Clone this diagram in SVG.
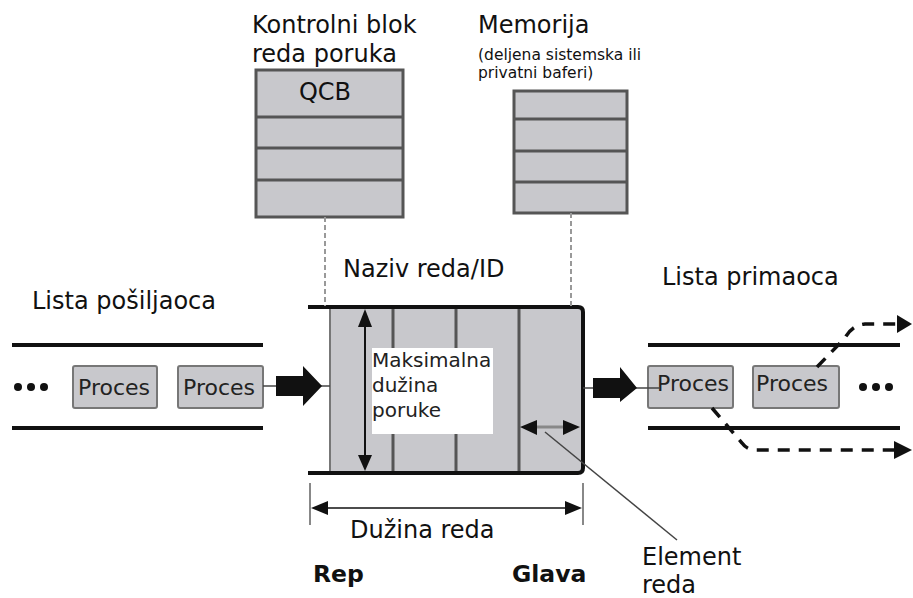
<svg xmlns="http://www.w3.org/2000/svg" width="913" height="598" viewBox="0 0 913 598">
  <style>
    text { font-family: "DejaVu Sans", "Verdana", sans-serif; fill: #111; }
    .title { font-size: 24px; }
    .bold { font-size: 23.5px; font-weight: bold; }
    .small { font-size: 15.5px; }
    .proc { font-size: 22px; fill: #222; }
    .note { font-size: 20px; fill: #222; }
    .cell { fill: #c8c8cc; }
    .box { fill: #c8c8cc; stroke: #555; stroke-width: 3; }
    .divider { stroke: #555; stroke-width: 3; }
    .procbox { fill: #c8c8cc; stroke: #777; stroke-width: 2; }
    .rail { stroke: #111; stroke-width: 4; }
    .link { stroke: #999; stroke-width: 2; stroke-dasharray: 5 3; fill: none; }
    .thin { stroke: #444; stroke-width: 1.5; fill: none; }
    .flow { stroke: #111; stroke-width: 3.5; stroke-dasharray: 12 9; fill: none; }
    .head { fill: #111; }
  </style>

  <rect width="913" height="598" fill="#fff"/>

  <!-- Queue control block -->
  <g id="qcb">
    <text class="title" x="252" y="33" font-size="24.5">Kontrolni blok</text>
    <text class="title" x="252" y="62" font-size="24.5">reda poruka</text>
    <rect class="box" x="256" y="70" width="147" height="147"/>
    <line class="divider" x1="256" y1="117" x2="403" y2="117"/>
    <line class="divider" x1="256" y1="148" x2="403" y2="148"/>
    <line class="divider" x1="256" y1="180" x2="403" y2="180"/>
    <text class="title" x="325" y="100" text-anchor="middle">QCB</text>
  </g>

  <!-- Memory buffers -->
  <g id="memory">
    <text class="title" x="478" y="33" font-size="24.5">Memorija</text>
    <text class="small" x="478" y="60">(deljena sistemska ili</text>
    <text class="small" x="478" y="78">privatni baferi)</text>
    <rect class="box" x="514" y="91" width="113" height="122"/>
    <line class="divider" x1="514" y1="119" x2="627" y2="119"/>
    <line class="divider" x1="514" y1="151" x2="627" y2="151"/>
    <line class="divider" x1="514" y1="182" x2="627" y2="182"/>
  </g>

  <!-- Message queue -->
  <g id="queue">
    <text class="title" x="343" y="277" font-size="24.5">Naziv reda/ID</text>
    <rect class="cell" x="330" y="307" width="253" height="166"/>
    <line x1="330" y1="307" x2="330" y2="473" stroke="#777" stroke-width="2"/>
    <line class="divider" x1="393" y1="307" x2="393" y2="473" stroke-width="2.5"/>
    <line class="divider" x1="456" y1="307" x2="456" y2="473" stroke-width="2.5"/>
    <line class="divider" x1="519" y1="307" x2="519" y2="473" stroke-width="2.5"/>
    <path d="M 308 307 L 578 307 Q 583 307 583 312 L 583 468 Q 583 473 578 473 L 308 473" fill="none" stroke="#111" stroke-width="4"/>
    <rect x="372" y="348" width="121" height="86" fill="#fff"/>
    <text class="note" x="372" y="367">Maksimalna</text>
    <text class="note" x="372" y="392">dužina</text>
    <text class="note" x="372" y="417">poruke</text>
  </g>

  <!-- Sender list -->
  <g id="senders">
    <text class="title" x="32" y="309" font-size="23.5">Lista pošiljaoca</text>
    <line class="rail" x1="12" y1="345" x2="263" y2="345"/>
    <line class="rail" x1="12" y1="428" x2="263" y2="428"/>
    <circle cx="18" cy="387" r="4" fill="#111"/>
    <circle cx="31" cy="387" r="4" fill="#111"/>
    <circle cx="44" cy="387" r="4" fill="#111"/>
    <rect class="procbox" x="73" y="366" width="84" height="42" rx="2"/>
    <text class="proc" x="114" y="395" text-anchor="middle">Proces</text>
    <rect class="procbox" x="178" y="366" width="85" height="42" rx="2"/>
    <text class="proc" x="219" y="395" text-anchor="middle">Proces</text>
  </g>

  <!-- Receiver list -->
  <g id="receivers">
    <text class="title" x="662" y="285">Lista primaoca</text>
    <line class="rail" x1="648" y1="345" x2="900" y2="345"/>
    <line class="rail" x1="648" y1="428" x2="900" y2="428"/>
    <rect class="procbox" x="648" y="366" width="85" height="42" rx="2"/>
    <text class="proc" x="693" y="391" text-anchor="middle">Proces</text>
    <rect class="procbox" x="753" y="366" width="86" height="42" rx="2"/>
    <text class="proc" x="792" y="391" text-anchor="middle">Proces</text>
    <circle cx="863" cy="387" r="4" fill="#111"/>
    <circle cx="876" cy="387" r="4" fill="#111"/>
    <circle cx="889" cy="387" r="4" fill="#111"/>
  </g>

  <!-- Labels around the queue -->
  <g id="labels">
    <text class="title" x="350" y="538" font-size="24.5">Dužina reda</text>
    <text class="bold" x="313" y="582">Rep</text>
    <text class="bold" x="512" y="582">Glava</text>
    <text class="title" x="642" y="565">Element</text>
    <text class="title" x="642" y="593">reda</text>
  </g>

  <!-- Connectors -->
  <g id="connectors">
    <!-- links from QCB and memory down to the queue -->
    <line class="link" x1="325" y1="217" x2="325" y2="306"/>
    <line class="link" x1="571" y1="213" x2="571" y2="306"/>

    <!-- sender -> queue -->
    <line x1="263" y1="386" x2="330" y2="386" stroke="#444" stroke-width="1.5"/>
    <polygon class="head" points="276,376 303,376 303,366 322,386 303,406 303,396 276,396"/>

    <!-- queue -> receiver -->
    <line x1="583" y1="388" x2="660" y2="388" stroke="#444" stroke-width="1.5"/>
    <polygon class="head" points="593,378 620,378 620,367 637,388 620,402 620,398 593,398"/>

    <!-- maximum message length -->
    <line x1="365" y1="320" x2="365" y2="460" stroke="#111" stroke-width="2"/>
    <polygon class="head" points="365,309 358,327 372,327"/>
    <polygon class="head" points="365,471 358,455 372,455"/>

    <!-- element width -->
    <line x1="535" y1="427" x2="565" y2="427" stroke="#888" stroke-width="3"/>
    <polygon class="head" points="520,427 537,420 537,435"/>
    <polygon class="head" points="580,427 563,420 563,435"/>
    <line class="thin" x1="545" y1="432" x2="677" y2="540" stroke="#555"/>

    <!-- queue length -->
    <line x1="310" y1="483" x2="310" y2="525" stroke="#888" stroke-width="2"/>
    <line x1="583" y1="483" x2="583" y2="525" stroke="#888" stroke-width="2"/>
    <line x1="320" y1="508" x2="573" y2="508" stroke="#111" stroke-width="1.5"/>
    <polygon class="head" points="311,508 328,501 328,515"/>
    <polygon class="head" points="582,508 565,501 565,515"/>

    <!-- processes leaving the receiver list -->
    <path class="flow" d="M 817 367 L 845 338 Q 852 325 865 324 L 898 324"/>
    <polygon class="head" points="897,315 912,324 897,333"/>
    <path class="flow" d="M 712 408 L 742 443 Q 747 450 756 450 L 894 450"/>
    <polygon class="head" points="894,441 912,450 894,459"/>
  </g>
</svg>
